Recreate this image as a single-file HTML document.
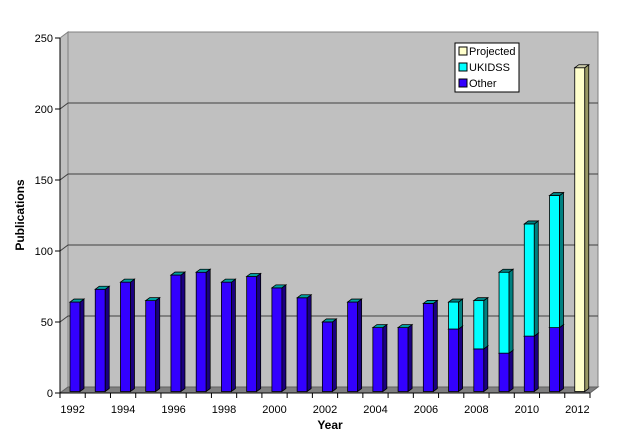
<!DOCTYPE html>
<html><head><meta charset="utf-8"><style>
body{margin:0;background:#fff;}
svg{display:block;font-family:"Liberation Sans",Arial,sans-serif;}
</style></head><body>
<svg id="chart" width="636" height="444" viewBox="0 0 636 444" xmlns="http://www.w3.org/2000/svg"></svg>
<script>
const years=[1992,1993,1994,1995,1996,1997,1998,1999,2000,2001,2002,2003,2004,2005,2006,2007,2008,2009,2010,2011,2012];
const otherVals=[63,72,77,64,82,84,77,81,73,66,49,63,45,45,62,44,30,27,39,45,0];
const ukidssVals=[0,0,0,0,0,0,0,0,0,0,0,0,0,0,0,19,34,57,79,93,0];
const projectedVals=[0,0,0,0,0,0,0,0,0,0,0,0,0,0,0,0,0,0,0,0,228];
const yTicks=[0,50,100,150,200,250];
const xLabels=[1992,1994,1996,1998,2000,2002,2004,2006,2008,2010,2012];

const svg=document.getElementById('chart');
const NS='http://www.w3.org/2000/svg';
const X0=60,X1=590,Y0=393,DX=8,DY=6,K=1.42;
const catW=(X1-X0)/years.length;
function yScale(v){return Y0-v*K;}
function xCat(i){return X0+i*catW;}
function mk(tag,attrs,parent){const e=document.createElementNS(NS,tag);for(const k in attrs)e.setAttribute(k,attrs[k]);(parent||svg).appendChild(e);return e;}

// back wall
const wall=mk('polygon',{points:`${X0+DX},${yScale(250)-DY} ${X1+DX},${yScale(250)-DY} ${X1+DX},${Y0-DY} ${X0+DX},${Y0-DY}`,fill:'#c0c0c0',stroke:'#808080'});


// side wall
const side=mk('polygon',{points:`${X0},${yScale(250)} ${X0+DX},${yScale(250)-DY} ${X0+DX},${Y0-DY} ${X0},${Y0}`,fill:'#c0c0c0',stroke:'#808080'});


// floor
const floor=mk('polygon',{points:`${X0},${Y0} ${X0+DX},${Y0-DY} ${X1+DX},${Y0-DY} ${X1},${Y0}`,fill:'#808080',stroke:'#606060'});


// gridlines
yTicks.forEach(v=>{
  const y=yScale(v);
  if(v>0&&v<250){
    const g=mk('polyline',{points:`${X0},${y} ${X0+DX},${y-DY} ${X1+DX},${y-DY}`,fill:'none',stroke:'#404040','stroke-width':1});
    
    
  }
  const t=mk('line',{x1:X0-5,y1:y,x2:X0,y2:y,stroke:'#000'});
  
  
  const l=mk('text',{x:X0-7,y:y+4,'text-anchor':'end','font-size':11});
  l.textContent=v;
  
  
});
// axes
const ya=mk('line',{x1:X0,y1:yScale(250),x2:X0,y2:Y0,stroke:'#000'});


const xa=mk('line',{x1:X0,y1:Y0,x2:X1,y2:Y0,stroke:'#000'});


for(let i=0;i<=years.length;i++){
  const t=mk('line',{x1:xCat(i),y1:Y0,x2:xCat(i),y2:Y0+5,stroke:'#000'});
  
  
}
xLabels.forEach(yr=>{
  const i=years.indexOf(yr);
  const l=mk('text',{x:xCat(i)+catW/2,y:413,'text-anchor':'middle','font-size':11});
  l.textContent=yr;
  
  
});

// bars
const bw=10,bd=4,bh=3,base=391.5;
function seg(i,v0,v1,front,sideC,top,name){
  if(v1<=v0)return;
  const x=xCat(i)+10,yb=base-v0*K,yt=base-v1*K;
  const g=mk('g',{});
  
  
  mk('rect',{x:x,y:yt,width:bw,height:yb-yt,fill:front,stroke:'#000','stroke-width':0.8},g);
  mk('polygon',{points:`${x+bw},${yt} ${x+bw+bd},${yt-bh} ${x+bw+bd},${yb-bh} ${x+bw},${yb}`,fill:sideC,stroke:'#000','stroke-width':0.8},g);
  mk('polygon',{points:`${x},${yt} ${x+bd},${yt-bh} ${x+bw+bd},${yt-bh} ${x+bw},${yt}`,fill:top,stroke:'#000','stroke-width':0.8},g);
}
years.forEach((yr,i)=>{
  const o=otherVals[i],u=ukidssVals[i],p=projectedVals[i];
  seg(i,0,o,'#3300ff','#1a0080',u>0?'#1a0080':'#00a0a0','bar-other-'+yr);
  seg(i,o,o+u,'#00ffff','#008080','#008080','bar-ukidss-'+yr);
  seg(i,o+u,o+u+p,'#ffffcc','#999966','#ccccaa','bar-projected-'+yr);
});

// axis titles
const xt=mk('text',{x:330,y:429,'text-anchor':'middle','font-size':12,'font-weight':'bold'});
xt.textContent='Year';


const yt=mk('text',{x:0,y:0,'text-anchor':'middle','font-size':12,'font-weight':'bold',transform:'translate(24,215) rotate(-90)'});
yt.textContent='Publications';



// legend
const lg=mk('g',{});


mk('rect',{x:455,y:43,width:64,height:49,fill:'#fff',stroke:'#000'},lg);
const entries=[['Projected','#ffffcc'],['UKIDSS','#00ffff'],['Other','#3300ff']];
entries.forEach((e,k)=>{
  const g=mk('g',{},lg);
  
  
  mk('rect',{x:459,y:47+k*16,width:8,height:8,fill:e[1],stroke:'#000'},g);
  const t=mk('text',{x:469,y:55+k*16,'font-size':11},g);
  t.textContent=e[0];
});
</script>
</body></html>
